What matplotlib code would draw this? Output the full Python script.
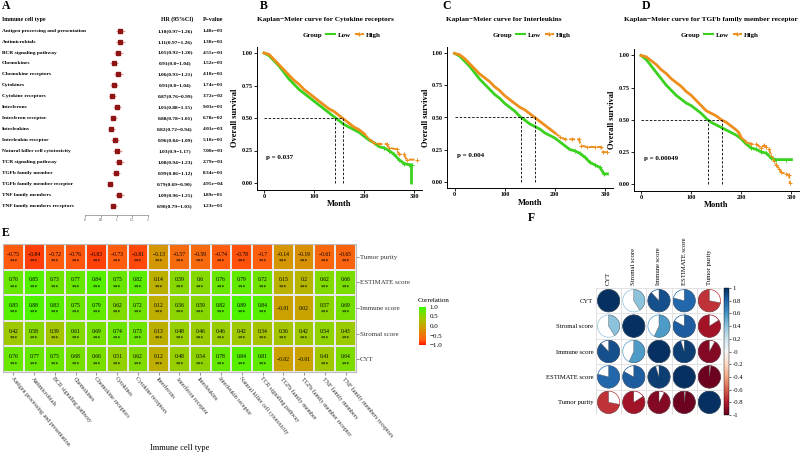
import numpy as np
import matplotlib
matplotlib.use('Agg')
import matplotlib.pyplot as plt
from matplotlib.colors import LinearSegmentedColormap, Normalize
from matplotlib.patches import Wedge, Circle
from matplotlib.lines import Line2D
from matplotlib.transforms import blended_transform_factory
import matplotlib.cm as cm

plt.rcParams['font.family'] = ['Liberation Serif', 'DejaVu Serif']

W, H = 800, 454

# ---------------- data: panel A (Cox forest) ----------------
cell_types = ['Antigen processing and presentation', 'Antimicrobials', 'BCR signaling pathway',
              'Chemokines', 'Chemokine receptors', 'Cytokines', 'Cytokine receptors', 'Interferons',
              'Interferon receptor', 'Interleukins', 'Interleukin receptor',
              'Natural killer cell cytotoxicity', 'TCR signaling pathway', 'TGFb family member',
              'TGFb family member receptor', 'TNF family members', 'TNF family members receptors']
hr = [1.10, 1.11, 1.05, 0.91, 1.06, 0.91, 0.87, 1.01, 0.88, 0.82, 0.96, 1.03, 1.08, 0.99, 0.79, 1.09, 0.90]
hr_lo = [0.97, 0.97, 0.92, 0.8, 0.93, 0.8, 0.76, 0.88, 0.78, 0.72, 0.84, 0.9, 0.94, 0.86, 0.69, 0.96, 0.79]
hr_hi = [1.26, 1.26, 1.20, 1.04, 1.21, 1.04, 0.99, 1.15, 1.01, 0.94, 1.09, 1.17, 1.23, 1.12, 0.90, 1.25, 1.03]
hr_text = ['1.10(0.97\u22121.26)', '1.11(0.97\u22121.26)', '1.05(0.92\u22121.20)', '0.91(0.8\u22121.04)',
           '1.06(0.93\u22121.21)', '0.91(0.8\u22121.04)', '0.87(0.76\u22120.99)', '1.01(0.88\u22121.15)',
           '0.88(0.78\u22121.01)', '0.82(0.72\u22120.94)', '0.96(0.84\u22121.09)', '1.03(0.9\u22121.17)',
           '1.08(0.94\u22121.23)', '0.99(0.86\u22121.12)', '0.79(0.69\u22120.90)', '1.09(0.96\u22121.25)',
           '0.90(0.79\u22121.03)']
pvals = ['1.40e\u221201', '1.30e\u221201', '4.55e\u221201', '1.52e\u221201', '4.10e\u221201', '1.74e\u221201',
         '3.72e\u221202', '9.01e\u221201', '6.78e\u221202', '4.01e\u221203', '5.10e\u221201', '7.00e\u221201',
         '2.79e\u221201', '8.34e\u221201', '4.95e\u221204', '1.89e\u221201', '1.23e\u221201']

# ---------------- data: panels B-D (Kaplan-Meier) ----------------
b_low_t = [0, 10, 20, 30, 40, 50, 60, 70, 80, 90, 100, 110, 120, 130, 140, 150, 160, 170, 180, 190, 200,
           210, 220, 230, 240, 250, 260, 270, 280, 290, 295, 295]
b_low_s = [1.0, 0.98, 0.94, 0.90, 0.85, 0.80, 0.76, 0.72, 0.69, 0.66, 0.63, 0.60, 0.57, 0.54, 0.51, 0.48,
           0.45, 0.43, 0.41, 0.39, 0.36, 0.33, 0.31, 0.28, 0.27, 0.25, 0.22, 0.18, 0.15, 0.14, 0.14, 0.0]
b_high_t = [0, 10, 20, 30, 40, 50, 60, 70, 80, 90, 100, 110, 120, 130, 140, 150, 160, 170, 180, 190, 200,
            210, 220, 230, 245, 250, 265, 270, 280, 285, 305]
b_high_s = [1.0, 0.99, 0.95, 0.91, 0.87, 0.83, 0.79, 0.76, 0.72, 0.69, 0.66, 0.63, 0.60, 0.57, 0.55, 0.52,
            0.49, 0.46, 0.43, 0.41, 0.38, 0.34, 0.31, 0.30, 0.30, 0.27, 0.26, 0.22, 0.22, 0.18, 0.18]
b_medians = [141, 158]

c_low_t = [0, 10, 20, 30, 40, 50, 60, 70, 80, 90, 100, 110, 120, 130, 140, 150, 160, 170, 180, 190, 200,
           210, 220, 230, 240, 250, 260, 270, 280, 290, 298, 305]
c_low_s = [1.0, 0.98, 0.94, 0.90, 0.85, 0.80, 0.76, 0.72, 0.68, 0.65, 0.61, 0.58, 0.55, 0.51, 0.48, 0.45,
           0.43, 0.41, 0.38, 0.36, 0.34, 0.31, 0.28, 0.25, 0.24, 0.22, 0.19, 0.15, 0.13, 0.11, 0.06, 0.06]
c_high_t = [0, 10, 20, 30, 40, 50, 60, 70, 80, 90, 100, 110, 120, 130, 140, 150, 160, 170, 180, 190, 200,
            210, 220, 235, 248, 252, 265, 280, 292, 296, 305]
c_high_s = [1.0, 0.99, 0.96, 0.92, 0.88, 0.84, 0.81, 0.78, 0.74, 0.71, 0.67, 0.64, 0.61, 0.58, 0.56, 0.53,
            0.50, 0.47, 0.44, 0.41, 0.38, 0.35, 0.33, 0.33, 0.33, 0.28, 0.27, 0.27, 0.27, 0.23, 0.23]
c_medians = [133, 161]

d_low_t = [0, 10, 20, 30, 40, 50, 60, 70, 80, 90, 100, 110, 120, 130, 140, 150, 160, 170, 180, 190, 200,
           210, 220, 230, 240, 250, 260, 270, 290, 300]
d_low_s = [1.0, 0.97, 0.92, 0.87, 0.82, 0.77, 0.73, 0.69, 0.66, 0.63, 0.61, 0.58, 0.55, 0.51, 0.48, 0.46,
           0.44, 0.42, 0.40, 0.38, 0.35, 0.31, 0.28, 0.27, 0.25, 0.24, 0.20, 0.19, 0.19, 0.19]
d_high_t = [0, 10, 20, 30, 40, 50, 60, 70, 80, 90, 100, 110, 120, 130, 140, 150, 160, 170, 180, 190, 195,
            200, 210, 220, 230, 240, 245, 250, 255, 260, 265, 270, 275, 280, 290, 295, 297]
d_high_s = [1.0, 0.99, 0.96, 0.93, 0.89, 0.86, 0.82, 0.79, 0.76, 0.72, 0.69, 0.65, 0.61, 0.57, 0.55, 0.53,
            0.50, 0.48, 0.45, 0.42, 0.40, 0.36, 0.33, 0.31, 0.31, 0.28, 0.30, 0.29, 0.27, 0.22, 0.18, 0.15,
            0.12, 0.09, 0.08, 0.07, 0.01]
d_medians = [134, 161]

# ---------------- data: panel E (heatmap) ----------------
score_rows = ['Tumor purity', 'ESTIMATE score', 'Immune score', 'Stromal score', 'CYT']
heat_vals = np.array([
    [-0.75, -0.84, -0.72, -0.76, -0.83, -0.73, -0.81, -0.13, -0.57, -0.59, -0.74, -0.78, -0.7, -0.14, -0.19, -0.61, -0.65],
    [0.76, 0.85, 0.73, 0.77, 0.84, 0.75, 0.82, 0.14, 0.59, 0.6, 0.76, 0.79, 0.72, 0.15, 0.2, 0.62, 0.66],
    [0.85, 0.88, 0.83, 0.75, 0.79, 0.62, 0.72, 0.12, 0.56, 0.59, 0.82, 0.89, 0.84, -0.01, 0.02, 0.57, 0.69],
    [0.42, 0.58, 0.39, 0.61, 0.69, 0.74, 0.73, 0.13, 0.48, 0.46, 0.46, 0.42, 0.34, 0.36, 0.42, 0.54, 0.43],
    [0.76, 0.77, 0.75, 0.68, 0.66, 0.51, 0.62, 0.12, 0.48, 0.54, 0.78, 0.84, 0.81, -0.02, -0.01, 0.41, 0.64]])
heat_stars = np.where(np.abs(heat_vals) >= 0.05, '***', '')

# ---------------- data: panel F (corrplot) ----------------
f_labels = ['CYT', 'Stromal score', 'Immune score', 'ESTIMATE score', 'Tumor purity']
f_corr = np.array([
    [1.00, 0.41, 0.88, 0.79, -0.72],
    [0.41, 1.00, 0.57, 0.83, -0.84],
    [0.88, 0.57, 1.00, 0.95, -0.92],
    [0.79, 0.83, 0.95, 1.00, -0.98],
    [-0.72, -0.84, -0.92, -0.98, 1.00]])

fig = plt.figure(figsize=(W / 100, H / 100), dpi=100)


def ax_px(x0, y0, x1, y1):
    return fig.add_axes([x0 / W, 1 - y1 / H, (x1 - x0) / W, (y1 - y0) / H])


def flabel(x, y, s):
    fig.text(x / W, 1 - y / H, s, fontsize=8.5, fontweight='bold', va='center', ha='left')


# ---------------- panel A ----------------
flabel(2, 6, 'A')
axA = ax_px(85, 25, 148, 215)
axA.set_xlim(0, 2)
axA.set_ylim(16.86, -0.52)
rows = np.arange(len(cell_types))
axA.hlines(rows, hr_lo, hr_hi, color='#E79A9A', lw=0.9)
axA.plot(hr, rows, 's', color='#8E1414', ms=3.0)
for s in ['top', 'right', 'left']:
    axA.spines[s].set_visible(False)
axA.spines['bottom'].set_linewidth(0.4)
axA.spines['bottom'].set_color('#666666')
axA.set_yticks([])
axA.set_xticks([0, 0.5, 1, 1.5, 2])
axA.set_xticklabels(['0', '0.5', '1', '1.5', '2'])
axA.tick_params(axis='x', labelsize=2.5, length=1.5, width=0.4, pad=0.5, colors='#444444')
tr = blended_transform_factory(fig.transFigure, axA.transData)
hdr_y = -1.05
fs_a = 3.9
axA.text(2 / W, hdr_y, 'Immune cell type', transform=tr, fontsize=4.2, fontweight='bold', va='center')
axA.text(177 / W, hdr_y, 'HR (95%CI)', transform=tr, fontsize=4.2, fontweight='bold', va='center', ha='center')
axA.text(213 / W, hdr_y, 'P\u2212value', transform=tr, fontsize=4.2, fontweight='bold', va='center', ha='center')
for i, name in enumerate(cell_types):
    axA.text(2 / W, i, name, transform=tr, fontsize=fs_a, fontweight='bold', va='center')
    axA.text(175 / W, i, hr_text[i], transform=tr, fontsize=fs_a, fontweight='bold', va='center', ha='center')
    axA.text(213 / W, i, pvals[i], transform=tr, fontsize=fs_a, fontweight='bold', va='center', ha='center')

# ---------------- panels B-D ----------------
green = '#3BD11F'
orange = '#EE8E1C'


def km_panel(box, title, title_x, leg_cx, lt, ls, ht, hs, medians, ptxt):
    ax = ax_px(*box)
    ax.plot(lt, ls, color=green, lw=2.0, solid_joinstyle='miter')
    # dense censor ticks make the early part of the High curve look solid
    cut = ht.index(200) + 1
    ax.plot(ht[:cut], hs[:cut], color=orange, lw=2.0)
    ax.plot(ht[cut - 1:], hs[cut - 1:], color=orange, lw=1.4, ls=(0, (3, 1.2)))
    ax.plot(ht[cut:], hs[cut:], '+', color=orange, ms=3, mew=0.7)
    ax.plot(lt[-8:-1], ls[-8:-1], '+', color=green, ms=3, mew=0.7)
    ax.hlines(0.5, 0, max(medians), color='black', lw=0.6, ls=(0, (3, 2)))
    ax.vlines(medians, 0, 0.5, color='black', lw=0.6, ls=(0, (3, 2)))
    ax.set_xlim(-15, 315)
    ax.set_ylim(-0.05, 1.05)
    ax.set_xticks([0, 100, 200, 300])
    ax.set_yticks([0, 0.25, 0.5, 0.75, 1.0])
    ax.set_yticklabels(['0.00', '0.25', '0.50', '0.75', '1.00'])
    for s in ['top', 'right']:
        ax.spines[s].set_visible(False)
    for s in ['left', 'bottom']:
        ax.spines[s].set_linewidth(0.7)
    ax.tick_params(labelsize=4.5, length=2, width=0.6, pad=1)
    for lab in ax.get_xticklabels() + ax.get_yticklabels():
        lab.set_fontweight('bold')
    ax.set_xlabel('Month', fontsize=6, fontweight='bold', labelpad=1)
    ax.set_ylabel('Overall survival', fontsize=6, fontweight='bold', labelpad=1.5)
    ax.text(5, 0.2, ptxt, fontsize=5, fontweight='bold', va='center')
    fig.text(title_x / W, 1 - 20 / H, title, fontsize=5.2, fontweight='bold', va='center')
    handles = [Line2D([], [], ls='none'), Line2D([], [], color=green, lw=1.5),
               Line2D([], [], color=orange, lw=1.5, ls=(0, (2, 1)), marker='+', ms=3)]
    fig.legend(handles, ['Group', 'Low', 'High'], ncol=3, loc='center',
               bbox_to_anchor=(leg_cx / W, 1 - 35 / H), frameon=False,
               prop={'size': 5, 'weight': 'bold'}, handlelength=1.3, handletextpad=0.3,
               columnspacing=0.6)
    return ax


flabel(260, 6, 'B')
km_panel((256.5, 46.5, 421.5, 189.5), 'Kaplan\u2212Meier curve for Cytokine receptors', 257, 336,
         b_low_t, b_low_s, b_high_t, b_high_s, b_medians, 'p = 0.037')
flabel(442, 6, 'C')
km_panel((447, 47, 612.5, 188), 'Kaplan\u2212Meier curve for Interleukins', 446, 526,
         c_low_t, c_low_s, c_high_t, c_high_s, c_medians, 'p = 0.004')
flabel(642, 6, 'D')
km_panel((633.5, 49, 799, 190.5), 'Kaplan\u2212Meier curve for TGFb family member receptor', 624, 714,
         d_low_t, d_low_s, d_high_t, d_high_s, d_medians, 'p = 0.00049')

# ---------------- panel E ----------------
flabel(2, 233, 'E')
heat_cmap = LinearSegmentedColormap.from_list('rg', [
    (0.0, '#FF1200'), (0.125, '#FF5A0E'), (0.25, '#F2720C'), (0.375, '#DD8C06'), (0.5, '#C9A200'),
    (0.625, '#B0BA00'), (0.75, '#95CF00'), (0.875, '#6CE500'), (1.0, '#33FF00')])
axE = ax_px(3, 244, 356, 372)
mesh = axE.pcolormesh(heat_vals, cmap=heat_cmap, vmin=-1, vmax=1, edgecolors='#E8E8E8', linewidth=0.3)
axE.set_ylim(len(score_rows), 0)
nr, nc = heat_vals.shape
for r in range(nr):
    for c in range(nc):
        v = heat_vals[r, c]
        txt = ('%.2f' % v).rstrip('0').rstrip('.').replace('-', '\u2212')
        if heat_stars[r, c]:
            axE.text(c + 0.5, r + 0.4, txt, fontsize=4, ha='center', va='center')
            axE.text(c + 0.5, r + 0.68, heat_stars[r, c], fontsize=4, ha='center', va='center')
        else:
            axE.text(c + 0.5, r + 0.5, txt, fontsize=4, ha='center', va='center')
axE.yaxis.tick_right()
axE.set_yticks(np.arange(nr) + 0.5)
axE.set_yticklabels(score_rows, fontsize=5)
axE.set_xticks(np.arange(nc) + 0.5)
axE.set_xticklabels(cell_types, fontsize=4.3, rotation=-50, ha='left', va='top', rotation_mode='anchor')
axE.tick_params(length=2, width=0.4, pad=1, colors='#333333')
for s in axE.spines.values():
    s.set_color('#BBBBBB')
    s.set_linewidth(0.8)
fig.text(180 / W, 1 - 448 / H, 'Immune cell type', fontsize=6, ha='center', va='center')
caxE = ax_px(419, 307, 426, 345)
cbE = fig.colorbar(mesh, cax=caxE, ticks=[-1, -0.5, 0, 0.5, 1])
cbE.ax.set_yticklabels(['\u22121.0', '\u22120.5', '0.0', '0.5', '1.0'])
cbE.ax.tick_params(labelsize=5, length=1.5, width=0.4, pad=1, color='white')
cbE.outline.set_visible(False)
fig.text(418 / W, 1 - 301 / H, 'Correlation', fontsize=5, va='center')

# ---------------- panel F ----------------
flabel(528, 218, 'F')
axF = ax_px(596, 288, 722, 415)
n = len(f_labels)
axF.set_xlim(0, n)
axF.set_ylim(0, n)
for k in range(n + 1):
    axF.axhline(k, color='#DDDDDD', lw=0.6)
    axF.axvline(k, color='#DDDDDD', lw=0.6)
rdbu = plt.get_cmap('RdBu')
for i in range(n):
    for j in range(n):
        v = f_corr[i, j]
        cx, cy = j + 0.5, n - i - 0.5
        col = rdbu((v + 1) / 2)
        axF.add_patch(Circle((cx, cy), 0.44, fc='white', ec=col, lw=0.5))
        if v >= 0:
            wd = Wedge((cx, cy), 0.44, 90 - 360 * v, 90, fc=col, ec='#555555', lw=0.3)
        else:
            wd = Wedge((cx, cy), 0.44, 90, 90 - 360 * v, fc=col, ec='#555555', lw=0.3)
        axF.add_patch(wd)
for s in axF.spines.values():
    s.set_visible(False)
axF.set_yticks(n - np.arange(n) - 0.5)
axF.set_yticklabels(f_labels, fontsize=4.8)
axF.xaxis.tick_top()
axF.set_xticks(np.arange(n) + 0.5)
axF.set_xticklabels(f_labels, fontsize=4.8, rotation=90)
axF.tick_params(length=0, pad=2)
caxF = ax_px(724, 288, 729, 415)
cbF = fig.colorbar(cm.ScalarMappable(norm=Normalize(-1, 1), cmap=rdbu), cax=caxF,
                   ticks=np.round(np.arange(-1, 1.01, 0.2), 1))
cbF.ax.set_yticklabels(['%g' % t for t in np.round(np.arange(-1, 1.01, 0.2), 1)])
cbF.ax.tick_params(labelsize=4.8, length=1.5, width=0.4, pad=1)
cbF.outline.set_linewidth(0.3)

fig.savefig('out.png', dpi=100)
